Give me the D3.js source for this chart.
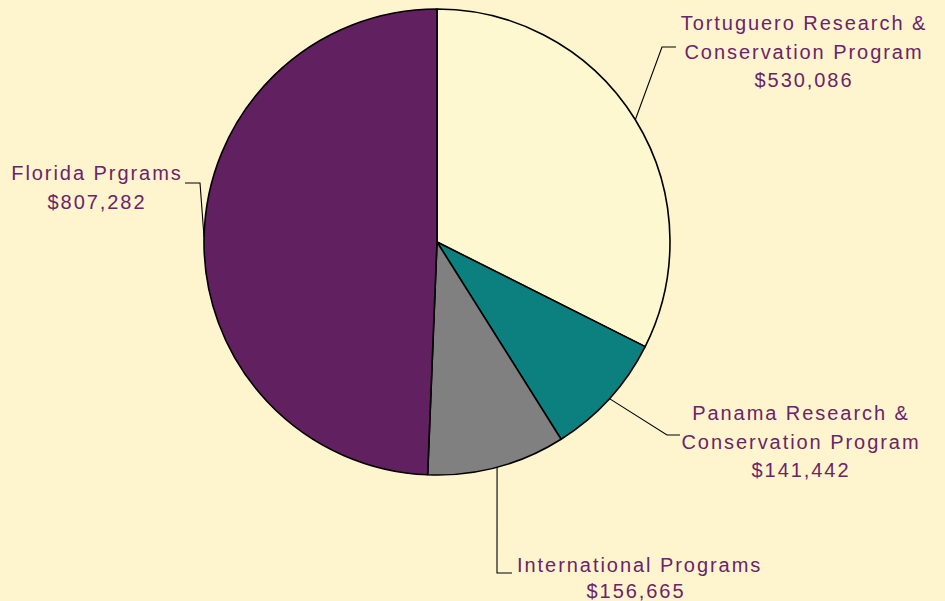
<!DOCTYPE html>
<html><head><meta charset="utf-8">
<script src="https://cdn.jsdelivr.net/npm/d3@7"></script>
<style>html,body{margin:0;padding:0;background:#FEF4CE;overflow:hidden}</style>
</head><body>
<svg id="c" width="945" height="601"></svg>
<script>
const categories = ["Tortuguero Research & Conservation Program", "Panama Research & Conservation Program", "International Programs", "Florida Prgrams"];
const values = [530086, 141442, 156665, 807282];
const labelLines = [
  ["Tortuguero Research &", "Conservation Program", "$530,086"],
  ["Panama Research &", "Conservation Program", "$141,442"],
  ["International Programs", "$156,665"],
  ["Florida Prgrams", "$807,282"]
];
const colors = ["#FDF8CF", "#0C7F7F", "#808080", "#612060"];

// layout (positions only)
const cx = 437, cy = 242, R = 233;
const layout = [
  {elbow:[662,47], end:[676,47], ty:30, dy:28.5, lines:[{x:804},{x:804},{x:804}]},
  {elbow:[667,435], end:[680,435], ty:420, dy:28.5, lines:[{x:801},{x:801},{x:801}]},
  {elbow:[497,573], end:[512,573], ty:572, dy:25.5, lines:[{x:517, a:"start"},{x:636}]},
  {elbow:[200,183], end:[185,183], ty:180, dy:28.5, lines:[{x:97},{x:97}]}
];

const svg = d3.select("#c");
const g = svg.append("g").attr("transform", `translate(${cx},${cy})`);
const pie = d3.pie().sort(null).value(d => d)(values);
const arc = d3.arc().innerRadius(0).outerRadius(R);

g.selectAll("path.slice").data(pie).join("path")
  .attr("class","slice")
  .attr("d", arc)
  .attr("fill", (d,i) => colors[i])
  .attr("stroke", "#000").attr("stroke-width", 1.6).attr("stroke-linejoin","round");

pie.forEach((d,i) => {
  const a = (d.startAngle + d.endAngle)/2;
  const sx = cx + R*Math.sin(a), sy = cy - R*Math.cos(a);
  const L = layout[i];
  svg.append("polyline")
    .attr("points", [[sx,sy], L.elbow, L.end].map(p=>p.join(",")).join(" "))
    .attr("fill","none").attr("stroke","#000").attr("stroke-width",1.1);
  const t = svg.append("text")
    .attr("font-family","Liberation Sans, Arial, sans-serif")
    .attr("font-size", 20).attr("letter-spacing", 1.95)
    .attr("fill", "#6A2468");
  labelLines[i].forEach((ln, j) => {
    t.append("tspan").attr("x", L.lines[j].x).attr("y", L.ty + j*L.dy)
      .attr("text-anchor", L.lines[j].a || "middle").text(ln);
  });
});
</script>
</body></html>
